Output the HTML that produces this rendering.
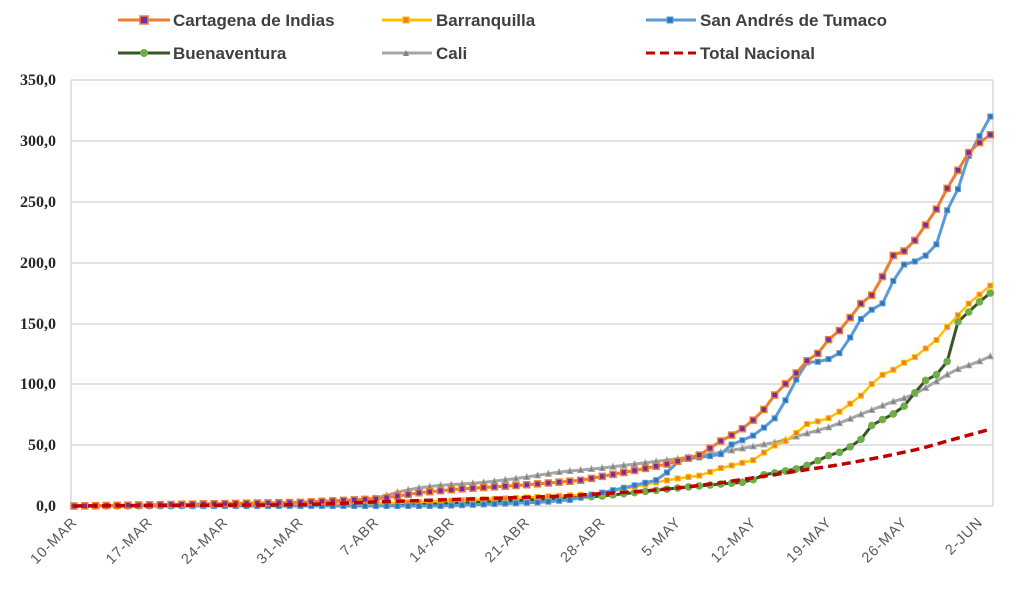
<!DOCTYPE html>
<html><head><meta charset="utf-8"><style>
html,body{margin:0;padding:0;background:#fff;width:1024px;height:589px;overflow:hidden}
svg text{font-family:"Liberation Sans",sans-serif}
svg .ser text{font-family:"Liberation Serif",serif}
</style></head><body>
<svg id="c" width="1024" height="589" xmlns="http://www.w3.org/2000/svg">
<g stroke="#d9d9d9" stroke-width="1.5">
<line x1="71" x2="993" y1="80" y2="80"/><line x1="71" x2="993" y1="141" y2="141"/>
<line x1="71" x2="993" y1="202" y2="202"/><line x1="71" x2="993" y1="263" y2="263"/>
<line x1="71" x2="993" y1="324" y2="324"/><line x1="71" x2="993" y1="384" y2="384"/>
<line x1="71" x2="993" y1="445" y2="445"/><line x1="71" x2="993" y1="506" y2="506"/>
<line x1="71" x2="71" y1="80" y2="506"/><line x1="993" x2="993" y1="80" y2="506"/>
</g>
<g class="ser" font-weight="bold" font-size="16" fill="#262626" text-anchor="end">
<text x="56" y="85">350,0</text><text x="56" y="146">300,0</text><text x="56" y="207">250,0</text>
<text x="56" y="268">200,0</text><text x="56" y="329">150,0</text><text x="56" y="389">100,0</text>
<text x="56" y="450">50,0</text><text x="56" y="511">0,0</text>
</g>
<g id="xl" font-size="14.5" fill="#595959" text-anchor="end" letter-spacing="1"></g>
<g id="series"></g>
<g font-size="17" font-weight="bold" fill="#404040">
<text x="173" y="26">Cartagena de Indias</text><text x="436" y="26">Barranquilla</text><text x="700" y="26">San Andrés de Tumaco</text>
<text x="173" y="59">Buenaventura</text><text x="436" y="59">Cali</text><text x="700" y="59">Total Nacional</text>
</g>
<g>
<line x1="118" x2="170" y1="20" y2="20" stroke="#ed7d31" stroke-width="3"/><rect x="140" y="16" width="8" height="8" fill="#7030a0" stroke="#ed7d31" stroke-width="1.5"/>
<line x1="382" x2="432" y1="20" y2="20" stroke="#ffc000" stroke-width="3"/><rect x="403" y="17" width="6" height="6" fill="#ed7d31" stroke="#ffc000"/>
<line x1="646" x2="696" y1="20" y2="20" stroke="#5b9bd5" stroke-width="3"/><rect x="667" y="17" width="6" height="6" fill="#2e75b6" stroke="#5b9bd5"/>
<line x1="118" x2="170" y1="53" y2="53" stroke="#375623" stroke-width="3"/><circle cx="144" cy="53" r="4" fill="#70ad47"/>
<line x1="382" x2="432" y1="53" y2="53" stroke="#a5a5a5" stroke-width="3"/><path d="M403 56 L406 50 L409 56Z" fill="#7f7f7f"/>
<line x1="646" x2="696" y1="53" y2="53" stroke="#c00000" stroke-width="3" stroke-dasharray="9,5"/>
</g>
</svg>
<script>
var ns="http://www.w3.org/2000/svg";
var DX=10.78;
function Y(v){return 506-v*1.2171;}
var xl=document.getElementById('xl');
var labs=["10-MAR","17-MAR","24-MAR","31-MAR","7-ABR","14-ABR","21-ABR","28-ABR","5-MAY","12-MAY","19-MAY","26-MAY","2-JUN"];
labs.forEach(function(l,i){var x=74+i*7*DX+4;var t=document.createElementNS(ns,'text');t.setAttribute('x',x);t.setAttribute('y',523);t.setAttribute('transform','rotate(-45 '+x+' 523)');t.textContent=l;xl.appendChild(t);});
var S={
cart:[[74,0],[300,3],[380,6],[420,11],[460,14],[520,17],[580,21],[640,30],[670,35],[700,42],[720,53],[740,62],[760,75],[770,86],[780,97],[793,105],[803,118],[815,122],[826,135],[837,142],[848,152],[858,165],[869,170],[880,183],[890,205],[902,208],[913,216],[923,228],[934,240],[945,258],[956,273],[967,289],[977,297],[990,305]],
san:[[74,0],[440,0],[540,3],[570,5],[640,18],[660,22],[680,38],[700,40],[720,42],[735,53],[750,55],[760,64],[770,65],[780,80],[792,95],[803,118],[815,118],[826,120],[837,123],[848,135],[858,151],[869,161],[880,162],[890,180],[902,198],[913,200],[923,205],[934,208],[945,240],[956,255],[967,285],[977,300],[990,320]],
bar:[[74,0],[380,2],[500,6],[600,10],[660,20],[680,23],[700,25],[720,31],[740,35],[755,38],[770,48],[790,55],[805,67],[815,69],[826,71],[837,76],[848,83],[858,88],[869,98],[880,107],[890,110],[902,117],[913,121],[923,128],[934,134],[945,145],[956,155],[967,165],[977,172],[990,181]],
bue:[[74,0],[400,1],[500,4],[600,8],[680,15],[720,18],[750,20],[760,25],[780,28],[800,31],[815,36],[826,41],[837,43],[848,48],[858,51],[869,65],[880,70],[890,74],[902,80],[913,91],[923,102],[934,107],[945,111],[956,150],[967,158],[977,166],[990,175]],
cali:[[74,0],[330,2],[380,7],[400,12],[420,15],[440,17],[480,19],[520,23],[560,28],[600,31],[640,35],[680,39],[720,44],[760,50],[780,53],[800,58],[830,65],[860,75],[890,85],[910,90],[930,99],[945,107],[956,112],[977,118],[990,123]],
tot:[[74,0],[300,1],[400,4],[480,6],[560,8],[640,12],[680,15],[720,19],[760,24],[800,29],[840,34],[880,40],[920,47],[950,54],[990,63]]};
function interp(p,x){for(var i=1;i<p.length;i++){if(x<=p[i][0]){var a=p[i-1],b=p[i];return a[1]+(b[1]-a[1])*(x-a[0])/(b[0]-a[0]);}}return p[p.length-1][1];}
var g=document.getElementById('series');
function draw(p,col,w,dash,mk){
 var pts=[];for(var d=0;d<=85;d++){var x=74+d*DX;if(x>p[p.length-1][0]+1)break;pts.push([x,Y(interp(p,x))]);}
 var pl=document.createElementNS(ns,'polyline');pl.setAttribute('points',pts.map(function(q){return q[0].toFixed(1)+','+q[1].toFixed(1)}).join(' '));
 pl.setAttribute('fill','none');pl.setAttribute('stroke',col);pl.setAttribute('stroke-width',w);pl.setAttribute('stroke-linejoin','round');if(dash)pl.setAttribute('stroke-dasharray',dash);g.appendChild(pl);
 if(mk)pts.forEach(function(q){g.insertAdjacentHTML('beforeend',mk(q[0],q[1]));});
}
draw(S.cali,'#a5a5a5',3,null,function(x,y){return '<path d="M'+(x-3)+' '+(y+2.5)+' L'+x+' '+(y-3)+' L'+(x+3)+' '+(y+2.5)+'Z" fill="#7f7f7f" stroke="#a5a5a5"/>';});
draw(S.bue,'#375623',3,null,function(x,y){return '<circle cx="'+x+'" cy="'+y+'" r="3.8" fill="#70ad47"/>';});
draw(S.bar,'#ffc000',2.5,null,function(x,y){return '<rect x="'+(x-2.5)+'" y="'+(y-2.5)+'" width="5" height="5" fill="#ed7d31" stroke="#ffc000"/>';});
draw(S.san,'#5b9bd5',3,null,function(x,y){return '<rect x="'+(x-2.5)+'" y="'+(y-2.5)+'" width="5" height="5" fill="#2e75b6" stroke="#5b9bd5"/>';});
draw(S.cart,'#ed7d31',3,null,function(x,y){return '<rect x="'+(x-3)+'" y="'+(y-3)+'" width="6" height="6" fill="#7030a0" stroke="#ed7d31" stroke-width="1.5"/>';});
draw(S.tot,'#c00000',3.5,'9,5',null);
</script>
</body></html>
